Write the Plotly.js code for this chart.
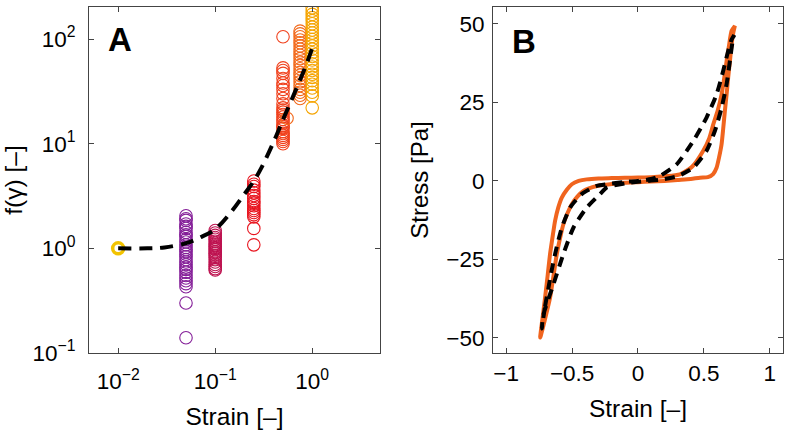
<!DOCTYPE html>
<html>
<head>
<meta charset="utf-8">
<script src="https://cdn.plot.ly/plotly-3.0.1.min.js"></script>
<style>html,body{margin:0;padding:0;background:#fff;}#chart{width:786px;height:432px;}</style>
</head>
<body>
<div id="chart"></div>
<script>
// ---------- Panel A data ----------
var strainLevels = [0.01, 0.05, 0.1, 0.25, 0.5, 0.75, 1.0];
var fAt001 = [1.0];
var fAt005 = [2.05, 1.92, 1.85, 1.71, 1.62, 1.55, 1.42, 1.35, 1.30, 1.21, 1.15, 1.08, 1.02, 0.97, 0.93, 0.88, 0.83, 0.78, 0.74, 0.70, 0.66, 0.63, 0.59, 0.55, 0.52, 0.49, 0.46, 0.43, 0.30, 0.14];
var fAt01 = [1.48, 1.40, 1.33, 1.27, 1.22, 1.17, 1.12, 1.08, 1.04, 1.00, 0.97, 0.93, 0.90, 0.86, 0.82, 0.78, 0.74, 0.70, 0.67, 0.64, 0.62];
var fAt025 = [4.4, 4.1, 3.9, 3.6, 3.4, 3.2, 3.0, 2.8, 2.7, 2.55, 2.4, 2.3, 2.2, 2.1, 2.0, 1.55, 1.08];
var fAt05 = [105, 53, 50, 47, 42, 38, 36, 33, 30, 27, 24, 22, 21, 20, 19, 18, 17, 16, 15, 14.5, 14, 13, 12.5, 12, 11.5, 11, 10.5, 10];
var fAt075 = [119, 112, 105, 98, 92, 86, 80, 75, 70, 65, 60, 56, 52, 48, 45, 42, 39, 36, 33, 31, 29, 27];
var fAt1 = [199, 185, 172, 160, 150, 140, 130, 122, 114, 106, 99, 92, 86, 80, 74, 68, 63, 58, 54, 50, 46, 43, 40, 37, 34, 31, 28.6, 22];
var extraStrain = [0.55];
var extraF = [17.5];
var seriesA = [fAt001, fAt005, fAt01, fAt025, fAt05, fAt075, fAt1];
var colorsA = ['#f2c300', '#841e98', '#bd114f', '#e8141e', '#f0401c', '#f2681a', '#f5a400'];

// fitted curve
var fitStrain = [0.01, 0.02, 0.03, 0.05, 0.07, 0.1, 0.15, 0.2, 0.25, 0.3, 0.4, 0.5, 0.6, 0.7, 0.8, 0.9, 1.0];
var fitF = [1.0, 1.0, 1.02, 1.12, 1.27, 1.52, 2.3, 3.3, 4.4, 5.9, 10.4, 17, 25, 35, 47, 62, 82];

// ---------- Panel B data ----------
var expUpStrain = [-0.742, -0.725, -0.705, -0.685, -0.667, -0.645, -0.629, -0.605, -0.578, -0.54, -0.502, -0.45, -0.389, -0.3, -0.2, -0.1, 0, 0.1, 0.2, 0.318, 0.41, 0.495, 0.54, 0.571, 0.605, 0.634, 0.655, 0.672, 0.69, 0.71, 0.735];
var expUpStress = [-49.9, -44, -37.2, -30, -23.3, -17, -12.7, -8.5, -5.3, -2.8, -1.05, 0, 0.5, 0.8, 0.9, 1.0, 1.1, 1.2, 1.5, 2.1, 4.5, 9.6, 13.5, 18, 22.5, 27.6, 33, 38.2, 43, 47.8, 49.4];
var expDownStrain = [0.735, 0.722, 0.71, 0.697, 0.684, 0.672, 0.659, 0.646, 0.634, 0.615, 0.596, 0.57, 0.53, 0.47, 0.4, 0.3, 0.2, 0.1, 0, -0.1, -0.212, -0.313, -0.414, -0.46, -0.502, -0.535, -0.566, -0.59, -0.616, -0.64, -0.667, -0.705, -0.742];
var expDownStress = [49.4, 47, 43.5, 38, 32.9, 27.5, 22.3, 16.5, 11.7, 7.5, 4.2, 2.2, 1.2, 1.05, 0.6, 0.3, 0.0, -0.2, -0.4, -0.6, -1.05, -1.6, -3.2, -5, -7.4, -10.3, -13.8, -18, -23.3, -30, -37.2, -44, -49.9];

var modUpStrain = [-0.73, -0.705, -0.679, -0.655, -0.629, -0.578, -0.515, -0.427, -0.313, -0.237, -0.1, 0, 0.1, 0.167, 0.293, 0.419, 0.52, 0.596, 0.646, 0.684, 0.71, 0.73];
var modUpStress = [-47, -40, -34, -28.5, -23.3, -14.9, -8.5, -4.2, -1.6, -1.05, -0.3, 0, 0.6, 1.6, 5.3, 12.7, 20.2, 27.6, 35, 41.4, 45, 46.5];
var modDownStrain = [0.73, 0.722, 0.697, 0.672, 0.634, 0.583, 0.52, 0.419, 0.3, 0.2, 0.1, 0, -0.1, -0.237, -0.288, -0.389, -0.49, -0.566, -0.641, -0.717, -0.73];
var modDownStress = [46.5, 45.6, 38.2, 30.8, 23.3, 15.9, 9.6, 4.2, 1.5, 0.6, 0.1, -0.3, -0.8, -2.1, -4.2, -8.5, -14.9, -23.3, -32.9, -42.5, -47];

// ---------- traces ----------
var traces = [];
for (var i = 0; i < strainLevels.length; i++) {
  var xs = seriesA[i].map(function(){ return strainLevels[i]; });
  traces.push({
    x: xs, y: seriesA[i], type: 'scatter', mode: 'markers', xaxis: 'x', yaxis: 'y',
    marker: {symbol: 'circle-open', size: i === 0 ? 11 : 12.5, color: colorsA[i], line: {width: i === 0 ? 3.5 : 1.1, color: colorsA[i]}},
    hoverinfo: 'skip'
  });
}
traces.push({
  x: extraStrain, y: extraF, type: 'scatter', mode: 'markers', xaxis: 'x', yaxis: 'y',
  marker: {symbol: 'circle-open', size: 12.5, color: '#f2681a', line: {width: 1.1, color: '#f2681a'}}
});
traces.push({
  x: fitStrain, y: fitF, type: 'scatter', mode: 'lines', xaxis: 'x', yaxis: 'y',
  line: {color: '#000', width: 4, dash: '13px,8px', shape: 'spline'}
});

var expStrain = expUpStrain.concat(expDownStrain);
var expStress = expUpStress.concat(expDownStress);
traces.push({
  x: expStrain, y: expStress, type: 'scatter', mode: 'lines', xaxis: 'x2', yaxis: 'y2',
  line: {color: '#f0641e', width: 4, shape: 'spline', smoothing: 0.6}
});
var modStrain = modUpStrain.concat(modDownStrain);
var modStress = modUpStress.concat(modDownStress);
traces.push({
  x: modStrain, y: modStress, type: 'scatter', mode: 'lines', xaxis: 'x2', yaxis: 'y2',
  line: {color: '#000', width: 4, dash: '10px,7px', shape: 'spline', smoothing: 0.6}
});

var axisCommon = {
  ticks: 'inside', ticklen: 5, tickwidth: 1, tickcolor: '#444',
  showline: true, mirror: 'ticks', linecolor: '#444', linewidth: 1,
  showgrid: false, zeroline: false,
  tickfont: {size: 22.5, color: '#000'}
};
function ax(extra) { var o = {}; for (var k in axisCommon) o[k] = axisCommon[k]; for (var k2 in extra) o[k2] = extra[k2]; return o; }

var layout = {
  width: 786, height: 432,
  margin: {l: 0, r: 0, t: 0, b: 0},
  paper_bgcolor: '#fff', plot_bgcolor: '#fff',
  showlegend: false,
  font: {family: '"Liberation Sans", Arial, Helvetica, sans-serif', size: 22.5, color: '#000'},
  xaxis: ax({type: 'log', domain: [0.1132, 0.4835], range: [-2.301, 0.699], anchor: 'y',
    tickmode: 'array', tickvals: [0.01, 0.1, 1], ticktext: ['10<sup>−2</sup>', '10<sup>−1</sup>', '10<sup>0</sup>'],
    ticklabelstandoff: 8,
    title: {text: 'Strain [–]', font: {size: 24.5}, standoff: 14}}),
  yaxis: ax({type: 'log', domain: [0.1829, 0.9838], range: [-1, 2.306], anchor: 'x',
    tickmode: 'array', tickvals: [0.1, 1, 10, 100], ticktext: ['10<sup>−1</sup>', '10<sup>0</sup>', '10<sup>1</sup>', '10<sup>2</sup>'],
    ticklabelstandoff: 8,
    title: {text: 'f(γ) [–]', font: {size: 24.5}, standoff: 10}}),
  xaxis2: ax({domain: [0.6272, 0.9962], range: [-1.1, 1.1], anchor: 'y2',
    tickmode: 'array', tickvals: [-1, -0.5, 0, 0.5, 1], ticktext: ['−1', '−0.5', '0', '0.5', '1'],
    ticklabelstandoff: 0,
    title: {text: 'Strain [–]', font: {size: 24.5}, standoff: 14}}),
  yaxis2: ax({domain: [0.1829, 0.9838], range: [-54.8, 55.4], anchor: 'x2',
    tickmode: 'array', tickvals: [-50, -25, 0, 25, 50], ticktext: ['−50', '−25', '0', '25', '50'],
    ticklabelstandoff: 3,
    title: {text: 'Stress [Pa]', font: {size: 24}, standoff: 10}}),
  annotations: [
    {text: '<b>A</b>', xref: 'paper', yref: 'paper', x: 120 / 786, y: 1 - 40 / 432, xanchor: 'center', yanchor: 'middle', showarrow: false, font: {size: 33, color: '#000'}},
    {text: '<b>B</b>', xref: 'paper', yref: 'paper', x: 524 / 786, y: 1 - 41 / 432, xanchor: 'center', yanchor: 'middle', showarrow: false, font: {size: 33, color: '#000'}}
  ]
};

Plotly.newPlot('chart', traces, layout, {staticPlot: true, displayModeBar: false});
</script>
</body>
</html>
